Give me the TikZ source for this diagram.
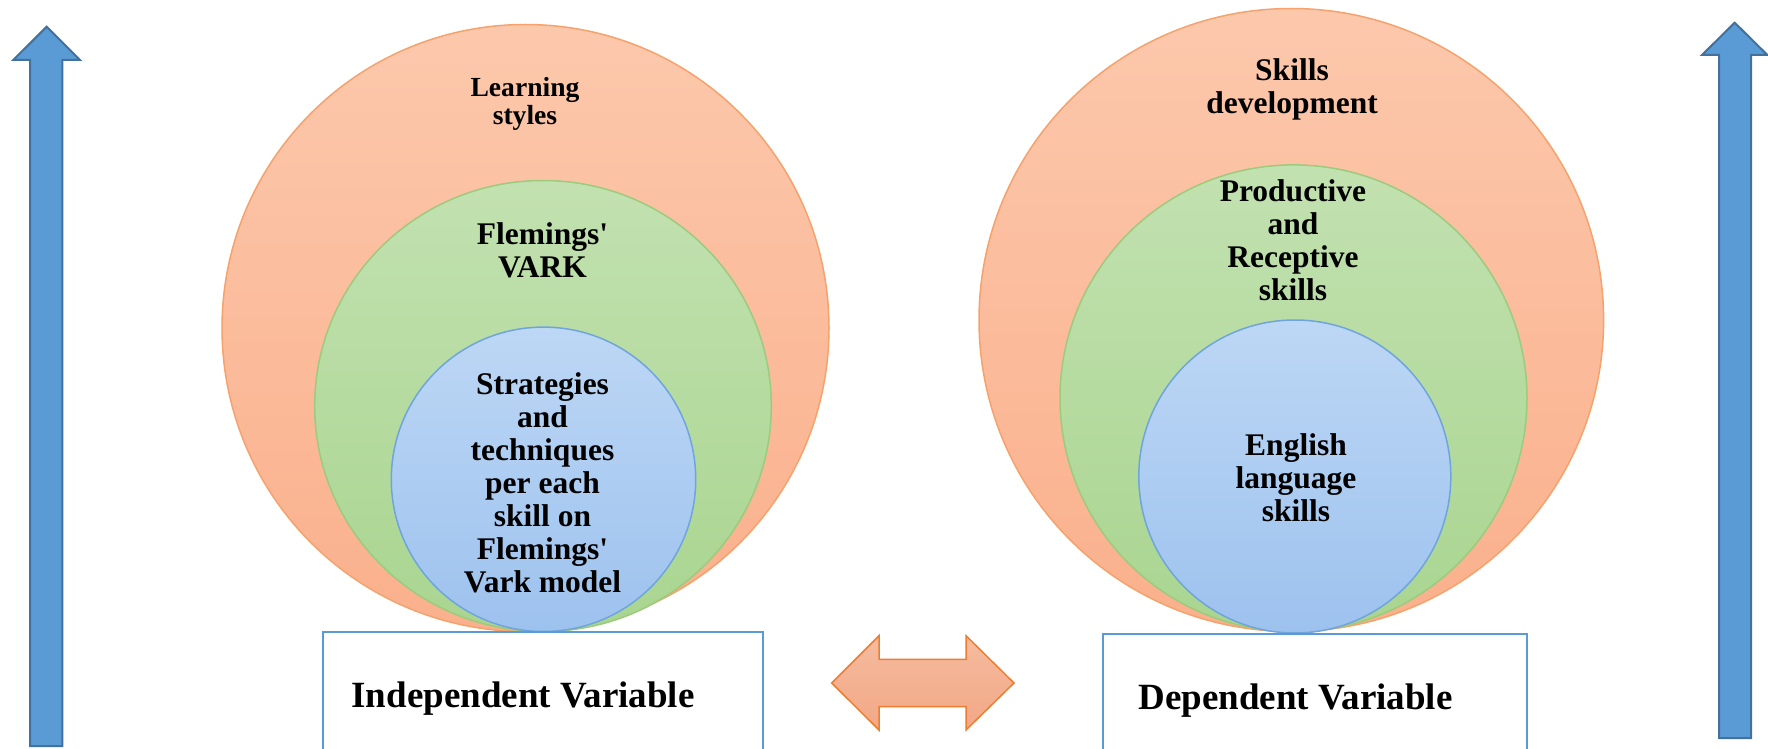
\documentclass[tikz,border=0pt]{standalone}
\usepackage{fontspec}
\setmainfont{Liberation Serif}
\usetikzlibrary{shapes.geometric}
\definecolor{orfillT}{HTML}{FCC8AC}
\definecolor{orfillB}{HTML}{FAB08C}
\definecolor{ordraw}{HTML}{F6A26C}
\definecolor{grfillT}{HTML}{C2E1B0}
\definecolor{grfillB}{HTML}{A9D590}
\definecolor{grdraw}{HTML}{9CCB7E}
\definecolor{blfillT}{HTML}{BDD7F5}
\definecolor{blfillB}{HTML}{9DC2EE}
\definecolor{bldraw}{HTML}{6FA5DC}
\definecolor{boxdraw}{HTML}{5B9BD5}
\definecolor{arrfill}{HTML}{5B9BD5}
\definecolor{arrdraw}{HTML}{41719C}
\definecolor{darrfillT}{HTML}{F5BB9E}
\definecolor{darrfillB}{HTML}{F2A886}
\definecolor{darrdraw}{HTML}{ED7D31}
\tikzset{
  ring/.style={ellipse, inner sep=0pt, line width=0.75pt},
  orring/.style={ring, draw=ordraw, top color=orfillT, bottom color=orfillB},
  grring/.style={ring, draw=grdraw, top color=grfillT, bottom color=grfillB},
  blring/.style={ring, draw=bldraw, top color=blfillT, bottom color=blfillB},
  lbl/.style={align=center, inner sep=0pt, font=\fontsize{15.75}{16.5}\selectfont\bfseries},
  smalllbl/.style={align=center, inner sep=0pt, font=\fontsize{13.8}{14.4}\selectfont\bfseries},
  varbox/.style={draw=boxdraw, fill=white, line width=1pt},
  varlbl/.style={inner sep=0pt, font=\fontsize{18.5}{20}\selectfont\bfseries},
  uparrow/.style={fill=arrfill, draw=arrdraw, line width=1pt, line join=miter},
  bothways/.style={top color=darrfillT, bottom color=darrfillB, draw=darrdraw, line width=0.75pt}
}
\begin{document}
\begin{tikzpicture}[x=0.5pt,y=-0.5pt]
\useasboundingbox (0,0) rectangle (1768,749);
\fill[white] (0,0) rectangle (1768,749);

% left arrow
\draw[uparrow] (30,746) -- (30,60) -- (13.3,60) -- (46.7,26.7) -- (80,60) -- (62.3,60) -- (62.3,746) -- cycle;
% right arrow
\draw[uparrow] (1719,738) -- (1719,55) -- (1702,55) -- (1734.7,22.7) -- (1767.4,55) -- (1751,55) -- (1751,738) -- cycle;

% left circles
\node[orring, minimum width=303.5pt, minimum height=303.5pt] (lo) at (525.5,328) {};
\node[grring, minimum width=228.3pt, minimum height=225.5pt] (lg) at (543,406) {};
\node[blring, minimum width=152.2pt, minimum height=152.2pt] (lb) at (543.5,479.3) {};
% right circles
\node[orring, minimum width=312.3pt, minimum height=311.5pt] (ro) at (1291.3,320) {};
\node[grring, minimum width=233.5pt, minimum height=233.3pt] (rg) at (1293.5,398.2) {};
\node[blring, minimum width=156pt, minimum height=156.5pt] (rb) at (1294.8,476.5) {};

% texts in circles
\node[smalllbl] (t1) at (525,104) {Learning\\styles};
\node[lbl] (t2) at (542.5,250) {Flemings\textquotesingle\\VARK};
\node[lbl] (t3) at (542.5,483) {Strategies\\and\\techniques\\per each\\skill on\\Flemings\textquotesingle\\Vark model};
\node[lbl] (t4) at (1292,89) {Skills\\development};
\node[lbl] (t5) at (1293,240) {Productive\\and\\Receptive\\skills};
\node[lbl] (t6) at (1296,478) {English\\language\\skills};

% boxes
\draw[varbox] (322.5,631.5) rectangle (763.4,760);
\draw[varbox] (1102.5,634) rectangle (1527,760);
\node[varlbl] (iv) at (523,699) {Independent Variable};
\node[varlbl] (dv) at (1295.5,701) {Dependent Variable};

% double arrow
\draw[bothways] (831.7,683) -- (879,635.7) -- (879,659.3) -- (966,659.3) -- (966,635.7) -- (1014,683) -- (966,730) -- (966,706.7) -- (879,706.7) -- (879,730) -- cycle;
\end{tikzpicture}
\end{document}
